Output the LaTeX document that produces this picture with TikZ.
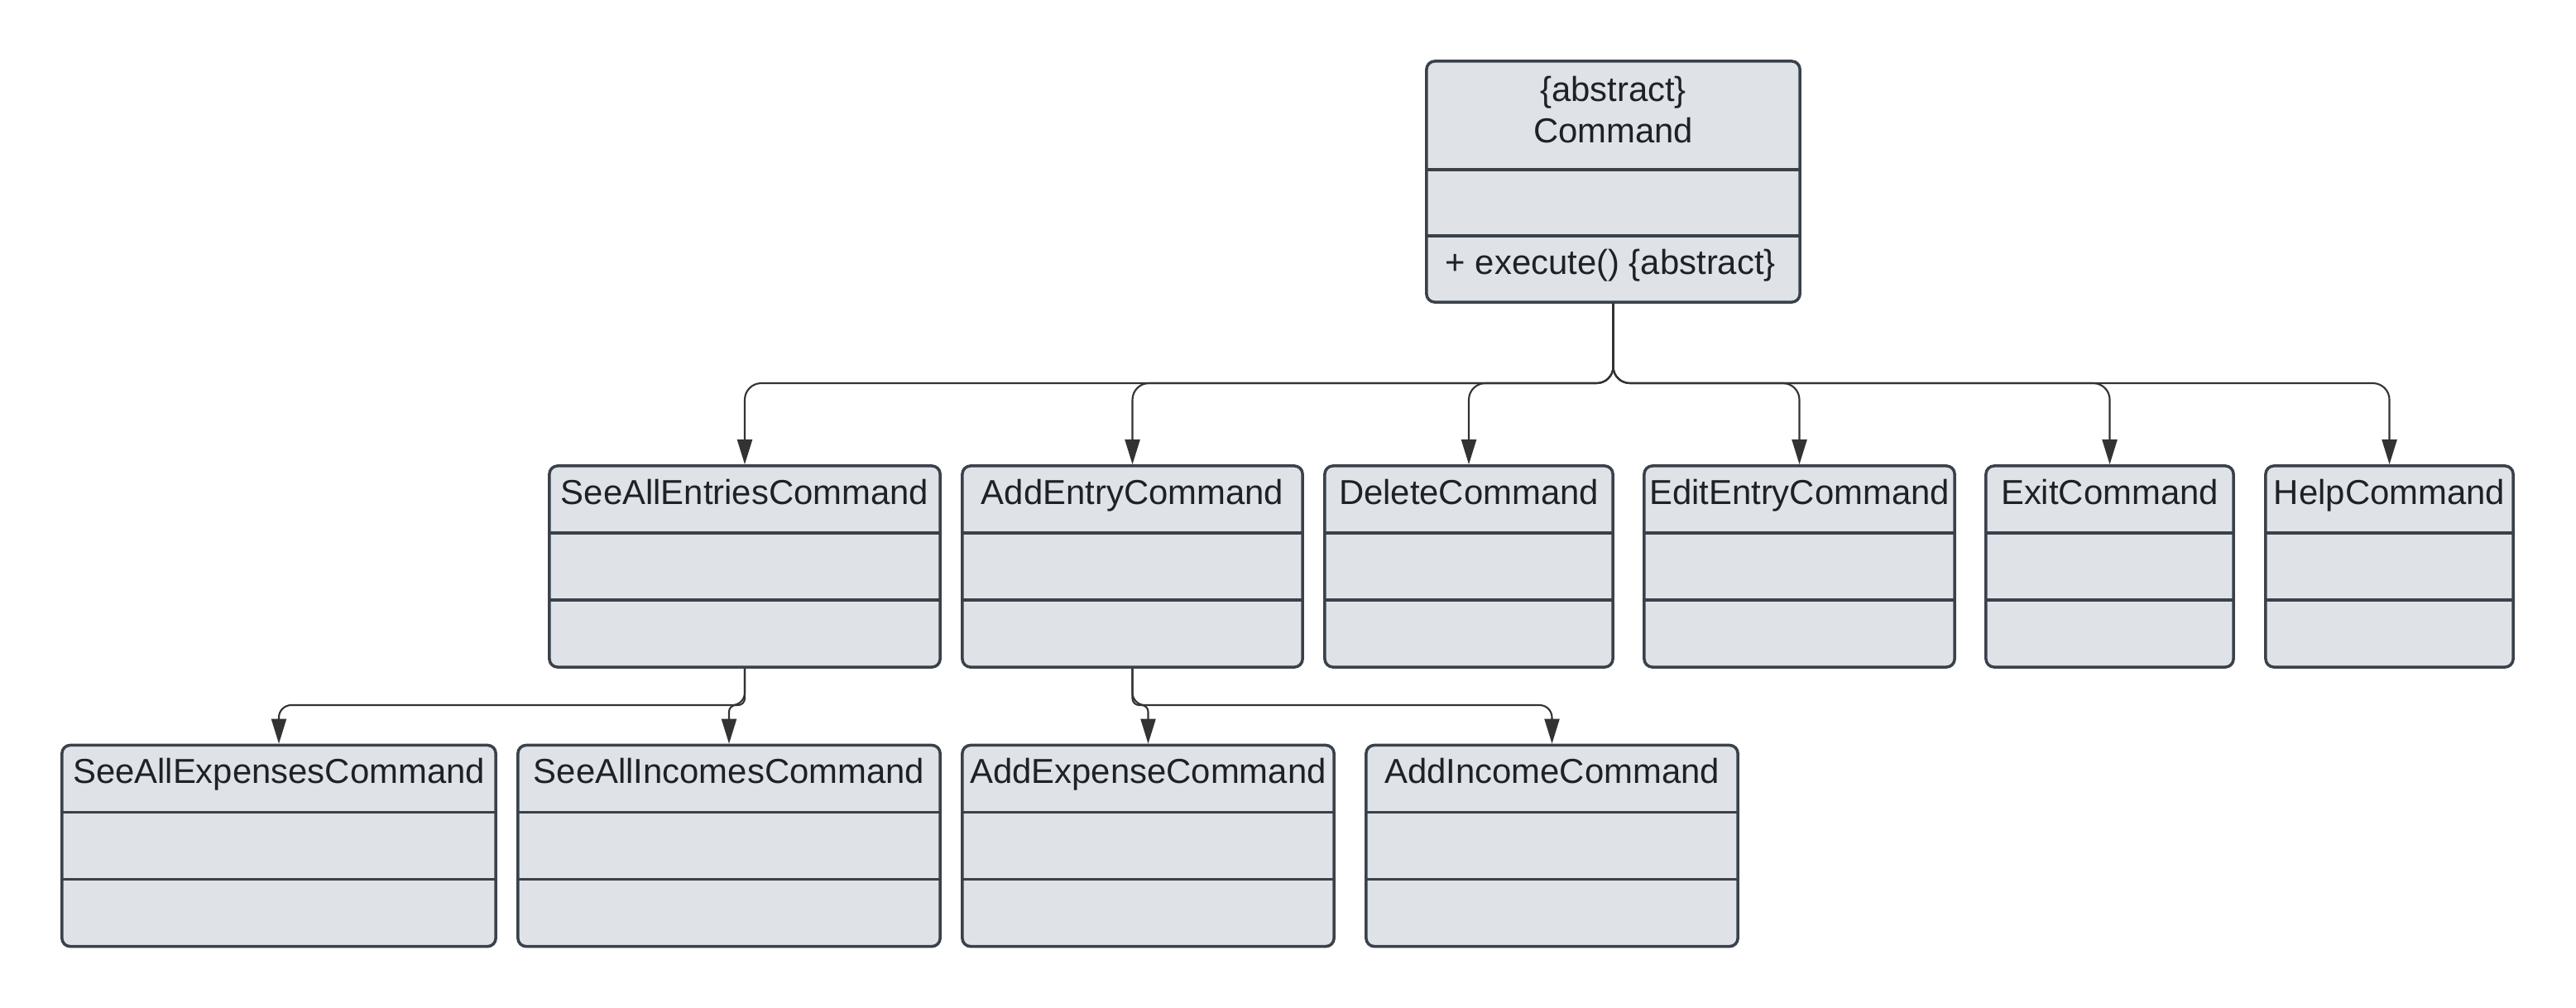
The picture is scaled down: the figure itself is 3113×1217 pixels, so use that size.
\documentclass[tikz,border=0pt]{standalone}
\usepackage{fontspec}
\setmainfont{Liberation Sans}
\usetikzlibrary{calc, arrows.meta, positioning}
\definecolor{umlfill}{HTML}{DFE3E8}
\definecolor{umlline}{HTML}{3A414A}
\definecolor{umlarrow}{HTML}{333333}
\definecolor{umltext}{HTML}{1E2227}

\begin{document}
\begin{tikzpicture}[x=0.01cm, y=-0.01cm,
    compartments/.style 2 args={path picture={
        \draw[umlline, line width=1pt]
          ($(path picture bounding box.north west)!#1!(path picture bounding box.south west)$) --
          ($(path picture bounding box.north east)!#1!(path picture bounding box.south east)$)
          ($(path picture bounding box.north west)!#2!(path picture bounding box.south west)$) --
          ($(path picture bounding box.north east)!#2!(path picture bounding box.south east)$);}},
    classbox/.style={draw=umlline, fill=umlfill, line width=1pt, rounded corners=0.1cm,
        minimum height=2.43cm, inner sep=0pt, compartments={1/3}{2/3}},
    classname/.style={anchor=base, text=umltext, inner sep=0pt,
        font=\fontsize{11.9}{14}\selectfont},
    inherit/.style={draw=umlarrow, line width=0.6pt, rounded corners=0.2cm,
        -{Triangle[length=0.3cm, width=0.18cm]}},
]
    \useasboundingbox (0,0) rectangle (3113,1217);

    % abstract base class
    \node[classbox, minimum width=4.51cm, minimum height=2.91cm,
          compartments={0.45}{0.725}] (cmd) at (1949.5,219.5) {};
    \node[classname] (cmd-stereo) at ($(cmd.north)+(0,50)$) {\{abstract\}};
    \node[classname] (cmd-name) at ($(cmd.north)+(0,100)$) {Command};
    \node[classname, anchor=base west] (cmd-op) at ($(cmd.north west)+(24,259)$) {+ execute() \{abstract\}};

    % first level
    \node[classbox, minimum width=4.72cm] (see) at (900,684.5) {};
    \node[classbox, minimum width=4.11cm] (add) at (1368.5,684.5) {};
    \node[classbox, minimum width=3.48cm] (del) at (1775,684.5) {};
    \node[classbox, minimum width=3.75cm] (edit) at (2174.5,684.5) {};
    \node[classbox, minimum width=2.99cm] (exit) at (2549.5,684.5) {};
    \node[classbox, minimum width=2.99cm] (help) at (2887.5,684.5) {};

    \node[classname] (see-name) at ($(see.north)+(0,48)$) {SeeAllEntriesCommand};
    \node[classname] (add-name) at ($(add.north)+(0,48)$) {AddEntryCommand};
    \node[classname] (del-name) at ($(del.north)+(0,48)$) {DeleteCommand};
    \node[classname] (edit-name) at ($(edit.north)+(0,48)$) {EditEntryCommand};
    \node[classname] (exit-name) at ($(exit.north)+(0,48)$) {ExitCommand};
    \node[classname] (help-name) at ($(help.north)+(0,48)$) {HelpCommand};

    % second level
    \node[classbox, minimum width=5.24cm] (exp) at (337,1022) {};
    \node[classbox, minimum width=5.10cm] (inc) at (881,1022) {};
    \node[classbox, minimum width=4.49cm] (addexp) at (1387.5,1022) {};
    \node[classbox, minimum width=4.49cm] (addinc) at (1875.5,1022) {};

    \node[classname] (exp-name) at ($(exp.north)+(0,48)$) {SeeAllExpensesCommand};
    \node[classname] (inc-name) at ($(inc.north)+(0,48)$) {SeeAllIncomesCommand};
    \node[classname] (addexp-name) at ($(addexp.north)+(0,48)$) {AddExpenseCommand};
    \node[classname] (addinc-name) at ($(addinc.north)+(0,48)$) {AddIncomeCommand};

    % generalisation arrows
    \coordinate (bus) at (0,463);
    \coordinate (bus2) at (0,852);

    \draw[inherit] (cmd.south) -- (cmd.south |- bus) -| (see.north);
    \draw[inherit] (cmd.south) -- (cmd.south |- bus) -| (add.north);
    \draw[inherit] (cmd.south) -- (cmd.south |- bus) -| (del.north);
    \draw[inherit] (cmd.south) -- (cmd.south |- bus) -| (edit.north);
    \draw[inherit] (cmd.south) -- (cmd.south |- bus) -| (exit.north);
    \draw[inherit] (cmd.south) -- (cmd.south |- bus) -| (help.north);

    \draw[inherit, rounded corners=0.15cm] (see.south) -- (see.south |- bus2) -| (exp.north);
    \draw[inherit, rounded corners=0.08cm] (see.south) -- (see.south |- bus2) -| (inc.north);
    \draw[inherit, rounded corners=0.08cm] (add.south) -- (add.south |- bus2) -| (addexp.north);
    \draw[inherit, rounded corners=0.15cm] (add.south) -- (add.south |- bus2) -| (addinc.north);
\end{tikzpicture}
\end{document}
